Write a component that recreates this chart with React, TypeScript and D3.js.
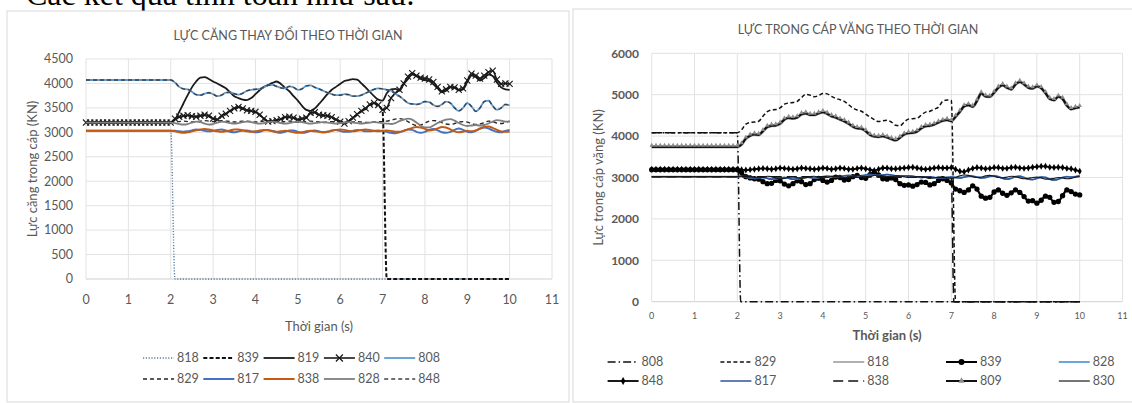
import * as d3 from "d3";
import React from "react";

// time grid (s), 0.1 s sampling
const T = d3.range(0, 101).map(i => i / 10);

// ---------------- left chart: LỰC CĂNG THAY ĐỔI THEO THỜI GIAN ----------------
const L_NAMES = ["818", "839", "819", "840", "808", "829", "817", "838", "828", "848"];

const L818_T = [0, 2.0, 2.1, 10];
const L818 = [3030, 3030, 0, 0];

const L840 = [
  3200, 3200, 3200, 3200, 3200, 3200, 3200, 3200, 3200, 3200, 3200, 3200, 3200, 3200, 3200, 3200, 3200, 3200, 3200, 3200, 3200,
  3280, 3320, 3340, 3350, 3330, 3320, 3340, 3360, 3340, 3280,
  3260, 3340, 3380, 3440, 3490, 3520, 3490, 3450, 3440, 3420,
  3360, 3280, 3220, 3230, 3250, 3270, 3310, 3320, 3300, 3260,
  3280, 3300, 3400, 3410, 3360, 3350, 3340, 3310, 3260, 3220,
  3180, 3230, 3300, 3370, 3440, 3490, 3570, 3600, 3560, 3460,
  3500, 3700, 3800, 3870, 4000, 4140, 4210, 4160, 4120, 4100,
  4080, 4030, 3930, 3840, 3880, 3930, 3920, 3870, 3900, 4060,
  4200, 4160, 4100, 4160, 4230, 4260, 4080, 3990, 4000, 3990,
];

const L839 = [
  3200, 3200, 3200, 3200, 3200, 3200, 3200, 3200, 3200, 3200, 3200, 3200, 3200, 3200, 3200, 3200, 3200, 3200, 3200, 3200, 3200,
  3270, 3310, 3330, 3340, 3330, 3320, 3330, 3350, 3330, 3280,
  3260, 3330, 3370, 3430, 3480, 3510, 3480, 3450, 3430, 3410,
  3350, 3280, 3220, 3230, 3250, 3270, 3300, 3310, 3290, 3260,
  3270, 3300, 3390, 3400, 3360, 3340, 3330, 3300, 3260, 3220,
  3190, 3230, 3290, 3360, 3430, 3480, 3560, 3590, 3550, 3440,
  0, 0, 0, 0, 0, 0, 0, 0, 0, 0,
  0, 0, 0, 0, 0, 0, 0, 0, 0, 0,
  0, 0, 0, 0, 0, 0, 0, 0, 0, 0,
];

const L819 = [
  3200, 3200, 3200, 3200, 3200, 3200, 3200, 3200, 3200, 3200, 3200, 3200, 3200, 3200, 3200, 3200, 3200, 3200, 3200, 3200, 3200,
  3260, 3420, 3590, 3760, 3920, 4040, 4120, 4130, 4090, 4040,
  4000, 3950, 3900, 3820, 3740, 3700, 3670, 3660, 3700, 3780,
  3860, 3930, 3970, 4010, 4040, 3990, 3910, 3840, 3740, 3650,
  3540, 3460, 3440, 3490, 3580, 3680, 3780, 3870, 3930, 3990,
  4050, 4070, 4090, 4080, 4000, 3920, 3830, 3740, 3670, 3650,
  3800, 3880, 3890, 3850, 3990, 4090, 4180, 4150, 4090, 4070,
  4050, 3980, 3900, 3820, 3850, 3920, 3910, 3860, 3880, 4030,
  4160, 4130, 4060, 4110, 4180, 4150, 4020, 3920, 3880, 3870,
];

const L808 = [
  4070, 4070, 4070, 4070, 4070, 4070, 4070, 4070, 4070, 4070, 4070, 4070, 4070, 4070, 4070, 4070, 4070, 4070, 4070, 4070, 4070,
  4020, 3930, 3890, 3880, 3830, 3770, 3760, 3790, 3810, 3780,
  3740, 3760, 3810, 3820, 3790, 3770, 3800, 3850, 3870, 3880,
  3890, 3920, 3960, 3970, 3940, 3910, 3900, 3940, 3920, 3870,
  3890, 3950, 3960, 3920, 3890, 3850, 3810, 3780, 3760, 3760,
  3780, 3770, 3740, 3740, 3760, 3800, 3840, 3880, 3900, 3890,
  3870, 3850, 3790, 3740, 3670, 3600, 3580, 3570, 3590, 3630,
  3620, 3560, 3530, 3570, 3630, 3600, 3500, 3440, 3500, 3600,
  3530, 3430, 3500, 3630, 3650, 3540, 3460, 3500, 3570, 3550,
];

const L829 = [
  3200, 3200, 3200, 3200, 3200, 3200, 3200, 3200, 3200, 3200, 3200, 3200, 3200, 3200, 3200, 3200, 3200, 3200, 3200, 3200, 3200,
  3210, 3220, 3230, 3220, 3210, 3220, 3230, 3240, 3230, 3220,
  3230, 3240, 3230, 3220, 3210, 3220, 3230, 3230, 3220, 3210,
  3220, 3230, 3230, 3220, 3210, 3210, 3220, 3230, 3220, 3210,
  3210, 3220, 3230, 3220, 3210, 3200, 3210, 3220, 3220, 3210,
  3200, 3200, 3210, 3220, 3210, 3200, 3200, 3210, 3220, 3220,
  3230, 3250, 3270, 3280, 3260, 3220, 3170, 3140, 3150, 3190,
  3230, 3240, 3230, 3200, 3170, 3160, 3180, 3210, 3220, 3210,
  3180, 3160, 3170, 3200, 3230, 3220, 3190, 3180, 3200, 3230,
];

const L817 = [
  3030, 3030, 3030, 3030, 3030, 3030, 3030, 3030, 3030, 3030, 3030, 3030, 3030, 3030, 3030, 3030, 3030, 3030, 3030, 3030, 3030,
  3030, 3020, 3010, 3020, 3040, 3060, 3050, 3030, 3020, 3030,
  3050, 3060, 3040, 3010, 3000, 3020, 3040, 3040, 3020, 3000,
  3010, 3040, 3050, 3030, 3000, 2990, 3010, 3040, 3040, 3010,
  2990, 3000, 3030, 3040, 3020, 3000, 3010, 3040, 3050, 3030,
  3010, 3010, 3030, 3050, 3040, 3020, 3020, 3030, 3040, 3030,
  3010, 2990, 2980, 3000, 3030, 3060, 3050, 3010, 2990, 3010,
  3050, 3070, 3040, 3000, 2990, 3010, 3050, 3080, 3050, 3010,
  3000, 3030, 3070, 3100, 3080, 3040, 3010, 3000, 3030, 3050,
];

const L838 = [
  3030, 3030, 3030, 3030, 3030, 3030, 3030, 3030, 3030, 3030, 3030, 3030, 3030, 3030, 3030, 3030, 3030, 3030, 3030, 3030, 3030,
  3020, 3000, 2990, 3000, 3020, 3040, 3060, 3070, 3060, 3040,
  3020, 3010, 3020, 3040, 3060, 3060, 3040, 3020, 3010, 3020,
  3040, 3050, 3040, 3020, 3010, 3020, 3030, 3020, 3000, 2990,
  3000, 3020, 3030, 3020, 3010, 3000, 3010, 3030, 3050, 3060,
  3050, 3030, 3020, 3030, 3050, 3060, 3050, 3030, 3020, 3030,
  3040, 3030, 3010, 3010, 3030, 3060, 3090, 3110, 3100, 3070,
  3040, 3050, 3080, 3110, 3100, 3060, 3020, 3000, 3010, 3030,
  3020, 3040, 3080, 3110, 3120, 3090, 3050, 3020, 3010, 3010,
];

const L828 = [
  3200, 3200, 3200, 3200, 3200, 3200, 3200, 3200, 3200, 3200, 3200, 3200, 3200, 3200, 3200, 3200, 3200, 3200, 3200, 3200, 3200,
  3190, 3170, 3160, 3170, 3200, 3220, 3210, 3180, 3160, 3170,
  3200, 3220, 3210, 3190, 3180, 3190, 3210, 3220, 3210, 3190,
  3180, 3190, 3210, 3220, 3210, 3190, 3180, 3190, 3210, 3220,
  3210, 3190, 3180, 3190, 3200, 3210, 3200, 3190, 3180, 3190,
  3200, 3210, 3200, 3190, 3180, 3190, 3200, 3210, 3200, 3190,
  3180, 3170, 3190, 3230, 3260, 3280, 3260, 3200, 3140, 3100,
  3100, 3140, 3190, 3230, 3260, 3270, 3240, 3190, 3150, 3130,
  3140, 3150, 3140, 3150, 3180, 3220, 3250, 3240, 3220, 3220,
];

// ---------------- right chart: LỰC TRONG CÁP VĂNG THEO THỜI GIAN ----------------
const R_NAMES = ["808", "829", "818", "839", "828", "848", "817", "838", "809", "830"];

const R808_T = [0, 2.0, 2.08, 10];
const R808 = [4080, 4080, 0, 0];

const R838_T = [0, 2.0, 7.0, 7.06, 10];
const R838 = [3020, 3020, 3000, 0, 0];

const R829 = [
  4080, 4080, 4080, 4080, 4080, 4080, 4080, 4080, 4080, 4080, 4080, 4080, 4080, 4080, 4080, 4080, 4080, 4080, 4080, 4080, 4080,
  4150, 4290, 4330, 4340, 4360, 4480, 4590, 4630, 4640, 4680,
  4770, 4800, 4810, 4840, 4930, 5010, 4990, 4950, 4980, 5030,
  5020, 4960, 4910, 4880, 4840, 4760, 4680, 4630, 4600, 4530,
  4460, 4400, 4350, 4370, 4380, 4340, 4260, 4250, 4340, 4410,
  4420, 4430, 4510, 4580, 4600, 4650, 4700, 4840, 4870, 4860,
  0, 0, 0, 0, 0, 0, 0, 0, 0, 0,
  0, 0, 0, 0, 0, 0, 0, 0, 0, 0,
  0, 0, 0, 0, 0, 0, 0, 0, 0, 0,
];

const R809 = [
  3740, 3740, 3740, 3740, 3740, 3740, 3740, 3740, 3740, 3740, 3740, 3740, 3740, 3740, 3740, 3740, 3740, 3740, 3740, 3740, 3740,
  3800, 3940, 4010, 4040, 4030, 4120, 4220, 4250, 4260, 4300,
  4400, 4440, 4430, 4450, 4530, 4550, 4510, 4510, 4550, 4580,
  4540, 4480, 4450, 4400, 4360, 4300, 4230, 4190, 4180, 4120,
  4030, 3990, 3980, 4000, 3970, 3930, 3900, 3960, 4040, 4070,
  4080, 4110, 4190, 4240, 4250, 4280, 4330, 4370, 4390, 4360,
  4470, 4590, 4720, 4750, 4710, 4850, 5030, 4960, 4950, 5050,
  5170, 5230, 5170, 5130, 5250, 5310, 5250, 5170, 5150, 5200,
  5160, 5040, 4900, 4870, 4950, 4900, 4740, 4650, 4680, 4700,
];

const R839 = [
  3190, 3190, 3190, 3190, 3190, 3190, 3190, 3190, 3190, 3190, 3190, 3190, 3190, 3190, 3190, 3190, 3190, 3190, 3190, 3190, 3190,
  3120, 3020, 2990, 2970, 2960, 2900, 2850, 2860, 2930, 2920,
  2840, 2800, 2850, 2920, 2900, 2830, 2850, 2950, 2980, 2930,
  2890, 2930, 3010, 3000, 2940, 2950, 3020, 3050, 3000, 2980,
  3070, 3130, 3060, 2970, 2960, 2990, 2950, 2850, 2810, 2820,
  2790, 2830, 2890, 2880, 2820, 2850, 2930, 2970, 2930, 2870,
  2720, 2680, 2640, 2700, 2800, 2720, 2550, 2500, 2520, 2650,
  2700, 2620, 2570, 2630, 2700, 2640, 2540, 2430, 2440, 2380,
  2450, 2550, 2520, 2400, 2420, 2560, 2700, 2660, 2600, 2580,
];

const R848 = [
  3200, 3200, 3200, 3200, 3200, 3200, 3200, 3200, 3200, 3200, 3200, 3200, 3200, 3200, 3200, 3200, 3200, 3200, 3200, 3200, 3200,
  3190, 3180, 3190, 3200, 3210, 3220, 3210, 3200, 3210, 3230,
  3220, 3210, 3200, 3210, 3230, 3220, 3210, 3200, 3210, 3230,
  3220, 3200, 3210, 3230, 3220, 3200, 3200, 3220, 3230, 3210,
  3190, 3170, 3200, 3230, 3230, 3210, 3210, 3220, 3230, 3240,
  3250, 3230, 3210, 3200, 3210, 3230, 3240, 3230, 3230, 3240,
  3200, 3150, 3140, 3180, 3220, 3240, 3230, 3210, 3220, 3240,
  3240, 3220, 3220, 3240, 3250, 3230, 3220, 3230, 3250, 3260,
  3270, 3270, 3250, 3240, 3250, 3240, 3220, 3210, 3180, 3150,
];

const R817 = [
  3020, 3020, 3020, 3020, 3020, 3020, 3020, 3020, 3020, 3020, 3020, 3020, 3020, 3020, 3020, 3020, 3020, 3020, 3020, 3020, 3020,
  3030, 3010, 2990, 2980, 2990, 3000, 2980, 2960, 2970, 2990,
  3000, 2980, 2960, 2970, 3000, 3010, 3000, 2990, 3000, 3020,
  3030, 3020, 3010, 3020, 3040, 3050, 3040, 3030, 3040, 3060,
  3070, 3060, 3050, 3060, 3070, 3060, 3040, 3030, 3040, 3040,
  3030, 3010, 3000, 3010, 3010, 3000, 2990, 2990, 3000, 3010,
  3000, 2990, 3010, 3030, 3030, 3010, 2990, 3000, 3030, 3040,
  3020, 2980, 2960, 2980, 3020, 3030, 3000, 2960, 2950, 2980,
  3010, 3000, 2960, 2940, 2960, 3000, 3020, 3010, 3020, 3040,
];

const R830 = [
  3020, 3020, 3020, 3020, 3020, 3020, 3020, 3020, 3020, 3020, 3020, 3020, 3020, 3020, 3020, 3020, 3020, 3020, 3020, 3020, 3020,
  3040, 3050, 3030, 3000, 2990, 3010, 3030, 3020, 2990, 2970,
  2980, 3010, 3020, 3000, 2980, 2990, 3020, 3030, 3010, 2990,
  3000, 3030, 3040, 3020, 3000, 3010, 3040, 3050, 3030, 3010,
  3020, 3050, 3060, 3040, 3020, 3020, 3040, 3040, 3020, 3000,
  3000, 3020, 3020, 3000, 2980, 2990, 3010, 3010, 2990, 2980,
  3000, 3040, 3060, 3050, 3020, 3000, 3010, 3040, 3050, 3030,
  3000, 2990, 3010, 3030, 3020, 2990, 2970, 2980, 3000, 3010,
  2990, 2960, 2960, 2980, 3000, 2990, 2970, 2980, 3010, 3020,
];

const X_TICKS = d3.range(0, 12);
const L_Y_TICKS = d3.range(0, 4501, 500);
const R_Y_TICKS = d3.range(0, 6001, 1000);

// ---------------- styles ----------------
type Marker = "x" | "circle" | "diamond" | "triangle";
type Style = { color: string; width: number; dash?: string; marker?: Marker; mSize?: number; mFill?: string };
type Series = { name: string; t: number[]; v: number[]; style: Style };

const L_STYLE: Record<string, Style> = {
  "818": { color: "#5b7fa8", width: 1.4, dash: "1.2,1.6" },
  "839": { color: "#111", width: 2, dash: "4,2.2" },
  "819": { color: "#1a1a1a", width: 1.8 },
  "840": { color: "#1a1a1a", width: 1.6, marker: "x", mSize: 26 },
  "808": { color: "#5b9bd5", width: 1.8 },
  "829": { color: "#262626", width: 1.4, dash: "4,3" },
  "817": { color: "#4472c4", width: 2 },
  "838": { color: "#c55a11", width: 2 },
  "828": { color: "#7f7f7f", width: 1.8 },
  "848": { color: "#404040", width: 1.4, dash: "4,3" },
};

const R_STYLE: Record<string, Style> = {
  "808": { color: "#111", width: 1.5, dash: "8,3,1.5,3" },
  "829": { color: "#111", width: 1.5, dash: "4,2.5" },
  "818": { color: "#b0b0b0", width: 3.2 },
  "839": { color: "#000", width: 2.2, marker: "circle", mSize: 22, mFill: "#000" },
  "828": { color: "#5b9bd5", width: 1.8 },
  "848": { color: "#000", width: 1.8, marker: "diamond", mSize: 14, mFill: "#000" },
  "817": { color: "#2f5597", width: 1.5 },
  "838": { color: "#111", width: 1.5, dash: "10,5" },
  "809": { color: "#111", width: 2.2, marker: "triangle", mSize: 9, mFill: "#8c8c8c" },
  "830": { color: "#1a1a1a", width: 1.2 },
};

const LEFT: Series[] = L_NAMES.map(name => {
  const data: Record<string, [number[], number[]]> = {
    "818": [L818_T, L818], "839": [T, L839], "819": [T, L819], "840": [T, L840], "808": [T, L808],
    "829": [T, L829], "817": [T, L817], "838": [T, L838], "828": [T, L828], "848": [T, L808],
  };
  return { name, t: data[name][0], v: data[name][1], style: L_STYLE[name] };
});

const RIGHT: Series[] = R_NAMES.map(name => {
  const data: Record<string, [number[], number[]]> = {
    "808": [R808_T, R808], "829": [T, R829], "818": [T, R809], "839": [T, R839], "828": [T, R817],
    "848": [T, R848], "817": [T, R817], "838": [R838_T, R838], "809": [T, R809], "830": [T, R830],
  };
  return { name, t: data[name][0], v: data[name][1], style: R_STYLE[name] };
});

const FONT = "Lato, 'Open Sans', sans-serif";
const GREY = "#595959";

function markerPath(m: Marker, size: number) {
  const type = m === "x" ? d3.symbolX : m === "circle" ? d3.symbolCircle : m === "diamond" ? d3.symbolDiamond : d3.symbolTriangle;
  return d3.symbol(type, size)() ?? "";
}

function Marks({ s, x, y }: { s: Series; x: (n: number) => number; y: (n: number) => number }) {
  const st = s.style;
  const line = d3.line<number>().x((_, i) => x(s.t[i])).y(d => y(d)).curve(d3.curveMonotoneX);
  const mp = st.marker ? markerPath(st.marker, st.mSize ?? 20) : "";
  // triangles sit just above the line, so the dark line stays visible
  const dy = st.marker === "triangle" ? -1.5 : 0;
  return (
    <g>
      <path d={line(s.v) ?? ""} fill="none" stroke={st.color} strokeWidth={st.width} strokeDasharray={st.dash} strokeLinejoin="round" />
      {st.marker && s.v.map((v, i) => (
        <path key={i} d={mp} transform={`translate(${x(s.t[i])},${y(v) + dy})`}
          fill={st.marker === "x" ? "none" : st.mFill}
          stroke={st.marker === "x" ? st.color : "none"}
          strokeWidth={1.1} />
      ))}
    </g>
  );
}

function LegendItem({ s, x, y, symW }: { s: Series; x: number; y: number; symW: number }) {
  const st = s.style;
  const mp = st.marker ? markerPath(st.marker, Math.max(18, (st.mSize ?? 20) * 1.3)) : "";
  return (
    <g>
      <line x1={x} x2={x + symW} y1={y} y2={y} stroke={st.color} strokeWidth={Math.min(st.width, 2)} strokeDasharray={st.dash} />
      {st.marker && (
        <path d={mp} transform={`translate(${x + symW / 2},${y})`}
          fill={st.marker === "x" ? "none" : st.mFill}
          stroke={st.marker === "x" ? st.color : "none"} strokeWidth={1.2} />
      )}
      <text x={x + symW + 3} y={y} dy="0.35em" fontSize={12.5} fill={GREY}>{s.name}</text>
    </g>
  );
}

type ChartProps = {
  frame: [number, number, number, number];
  px: [number, number];
  py: [number, number];
  yMax: number;
  yTicks: number[];
  series: Series[];
  title: string;
  titleY: number;
  yTitle: string;
  yTitleX: number;
  xTitle: string;
  xTitleY: number;
  xTitleWeight: number;
  yTickWeight: number;
  yTickSize: number;
  yTickX: number;
  xTickSize: number;
  xTickY: number;
  legendX: number;
  legendPitch: number;
  legendRows: [number, number];
};

function Chart(p: ChartProps) {
  const x = d3.scaleLinear().domain([0, 11]).range(p.px);
  const y = d3.scaleLinear().domain([0, p.yMax]).range([p.py[1], p.py[0]]);
  const [fx, fy, fw, fh] = p.frame;
  const cx = (p.px[0] + p.px[1]) / 2;
  const cy = (p.py[0] + p.py[1]) / 2;
  return (
    <g fontFamily={FONT}>
      <rect x={fx} y={fy} width={fw} height={fh} fill="#fff" stroke="#d9d9d9" strokeWidth={1} />
      <text x={fx + fw / 2} y={p.titleY} textAnchor="middle" fontSize={12.5} fill={GREY}>{p.title}</text>
      {p.yTicks.map(t => (
        <line key={"h" + t} x1={p.px[0]} x2={p.px[1]} y1={y(t)} y2={y(t)} stroke={t === 0 ? "#cfcfcf" : "#e2e2e2"} strokeWidth={1} />
      ))}
      {X_TICKS.map(t => (
        <line key={"v" + t} x1={x(t)} x2={x(t)} y1={p.py[0]} y2={p.py[1]} stroke="#e2e2e2" strokeWidth={1} />
      ))}
      {p.yTicks.map(t => (
        <text key={"yl" + t} x={p.yTickX} y={y(t)} dy="0.35em" textAnchor="end" fontSize={p.yTickSize} fontWeight={p.yTickWeight} fill={GREY}>{t}</text>
      ))}
      {X_TICKS.map(t => (
        <text key={"xl" + t} x={x(t)} y={p.xTickY} dy="0.35em" textAnchor="middle" fontSize={p.xTickSize} fill={GREY}>{t}</text>
      ))}
      <text x={cx} y={p.xTitleY} dy="0.35em" textAnchor="middle" fontSize={13} fontWeight={p.xTitleWeight} fill={GREY}>{p.xTitle}</text>
      <text transform={`translate(${p.yTitleX},${cy}) rotate(-90)`} dy="0.35em" textAnchor="middle" fontSize={13} fill={GREY}>{p.yTitle}</text>
      {p.series.map(s => <Marks key={s.name} s={s} x={x} y={y} />)}
      {p.series.map((s, i) => (
        <LegendItem key={"lg" + s.name} s={s} x={p.legendX + (i % 5) * p.legendPitch} y={p.legendRows[Math.floor(i / 5)]} symW={31} />
      ))}
    </g>
  );
}

export default function App() {
  return (
    <div style={{ position: "absolute", left: 0, top: 0 }}>
      <svg width={1132} height={403} style={{ display: "block", background: "#fff" }}>
        <text x={26} y={5} fontFamily="'Liberation Serif', 'Times New Roman', serif" fontSize={32} fill="#000">Các kết quả tính toán như sau:</text>
        <Chart
          frame={[7, 11, 562, 391]} px={[86, 552]} py={[59, 279]} yMax={4500} yTicks={L_Y_TICKS}
          series={LEFT} title="LỰC CĂNG THAY ĐỔI THEO THỜI GIAN" titleY={40}
          yTitle="Lực căng trong cáp (KN)" yTitleX={32} xTitle="Thời gian (s)" xTitleY={326} xTitleWeight={400}
          yTickWeight={400} yTickSize={12.5} yTickX={73} xTickSize={12.5} xTickY={300}
          legendX={143} legendPitch={60.3} legendRows={[358, 379]}
        />
        <Chart
          frame={[573, 9, 570, 393]} px={[651.7, 1122.5]} py={[53.3, 301.7]} yMax={6000} yTicks={R_Y_TICKS}
          series={RIGHT} title="LỰC TRONG CÁP VĂNG THEO THỜI GIAN" titleY={34}
          yTitle="Lực trong cáp văng (KN)" yTitleX={598} xTitle="Thời gian (s)" xTitleY={335} xTitleWeight={700}
          yTickWeight={700} yTickSize={12} yTickX={639} xTickSize={9} xTickY={316}
          legendX={607.6} legendPitch={112.8} legendRows={[362, 381]}
        />
      </svg>
    </div>
  );
}
